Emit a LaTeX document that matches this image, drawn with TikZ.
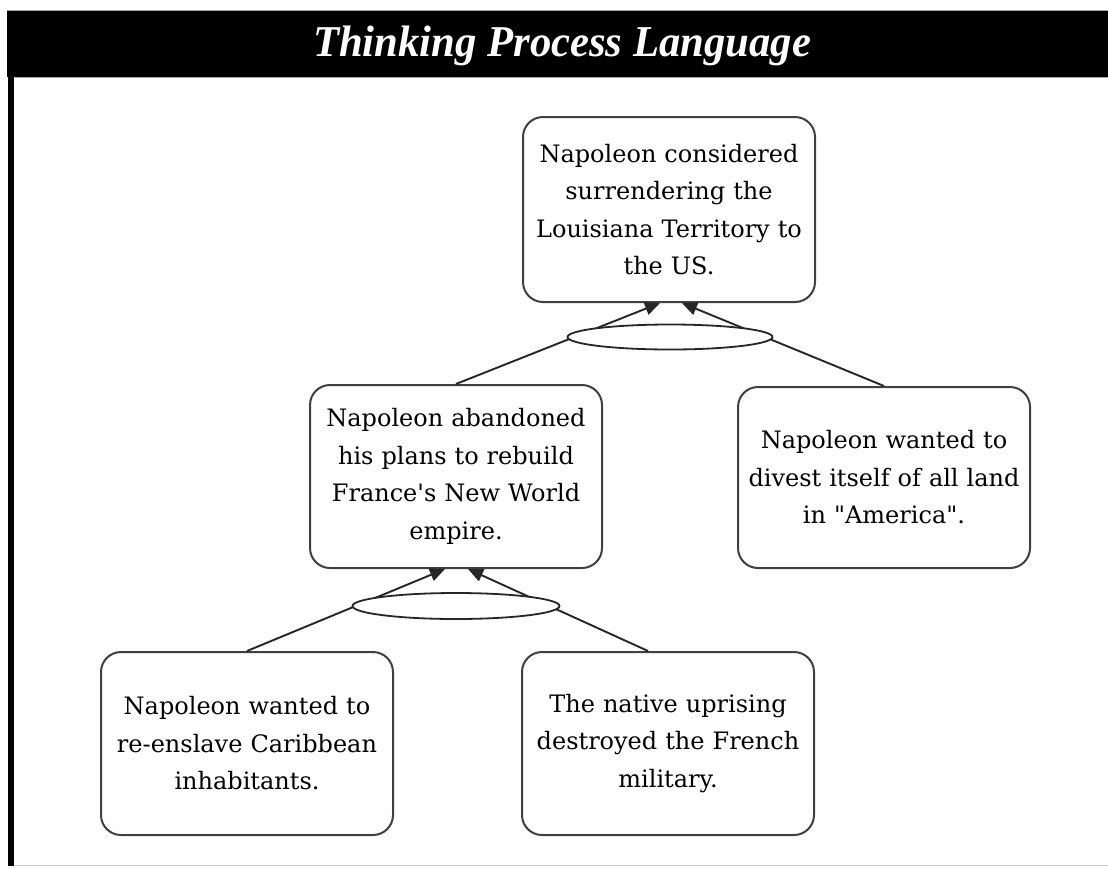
\documentclass[tikz,border=0pt]{standalone}
\usepackage{fontspec}
\setmainfont{DejaVu Serif}[Ligatures=TeXOff]
\newfontfamily\titlefont{Liberation Serif}
\usetikzlibrary{shapes.geometric,arrows.meta}
\begin{document}
\begin{tikzpicture}[x=1pt,y=-1pt,
  box/.style={draw=black!75, line width=2pt, rounded corners=20pt, fill=white, align=center, text width=280pt, inner sep=6pt, minimum height=183pt, font=\fontsize{24}{37.5}\selectfont},
  link/.style={draw=black!85, line width=1.9pt, -{Triangle[length=15pt,width=13pt]}},
  andell/.style={ellipse, draw=black!85, line width=1.8pt, fill=white, inner sep=0pt, minimum width=205pt, minimum height=25pt}]
\useasboundingbox (0,0) rectangle (1108,868);
\fill[white] (0,0) rectangle (1108,868);
% frame
\fill[black] (7,10) rectangle (1108,77);
\draw[black!35, line width=0.8pt] (7,10) -- (1108,10);
\draw[black!35, line width=0.8pt] (15,77.5) -- (1108,77.5);
\fill[black] (8,77) rectangle (14,866);
\draw[black!20, line width=1pt] (14,865.5) -- (1108,865.5);
% title
\node[anchor=base, text=white, inner sep=0pt, font=\titlefont\bfseries\itshape\fontsize{44}{44}\selectfont] (title) at (562,56) {\scalebox{0.97}[1]{Thinking Process Language}};
% boxes
\node[box, minimum height=185pt] (top) at (669,209.5) {Napoleon considered\\surrendering the\\Louisiana Territory to\\the US.};
\node[box] (ml) at (456,476.5) {Napoleon abandoned\\his plans to rebuild\\France's New World\\empire.};
\node[box, minimum height=181pt] (mr) at (884,477.5) {Napoleon wanted to\\divest itself of all land\\in "America".};
\node[box] (bl) at (247,743.5) {Napoleon wanted to\\re-enslave Caribbean\\inhabitants.};
\node[box] (br) at (668,743.5) {The native uprising\\destroyed the French\\military.};
% connectors
\draw[link] (ml.north) -- ([xshift=-9pt]top.south);
\draw[link] (mr.north) -- ([xshift=13pt]top.south);
\node[andell] (e1) at (670,337) {};
\draw[link] (bl.north) -- ([xshift=-11pt]ml.south);
\draw[link] ([xshift=-20pt]br.north) -- ([xshift=12pt]ml.south);
\node[andell, minimum width=207pt, minimum height=26pt] (e2) at (456,606) {};
\end{tikzpicture}
\end{document}
